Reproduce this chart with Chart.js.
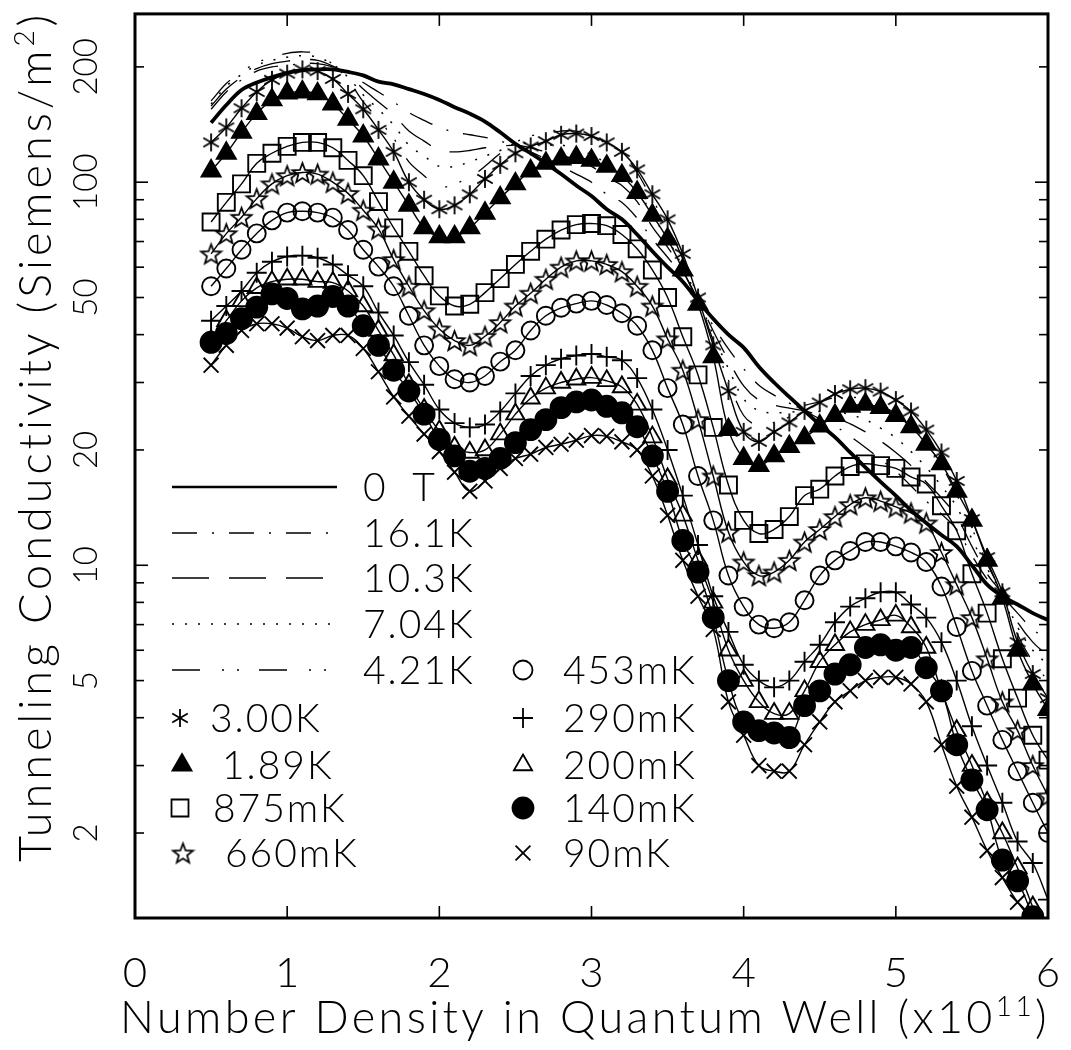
<!DOCTYPE html>
<html>
<head>
<meta charset="utf-8">
<title>Tunneling conductivity vs density</title>
<script src="https://cdn.jsdelivr.net/npm/chart.js@4.4.1/dist/chart.umd.min.js"></script>
<style>
  html, body { margin: 0; padding: 0; background: #fff; }
  canvas { display: block; }
</style>
</head>
<body>
<canvas id="chart" width="1071" height="1050"></canvas>
<script>
// density in the well (units of 1e11), shared by every curve
const density = [0.5, 0.6, 0.7, 0.8, 0.9, 1.0, 1.1, 1.2, 1.3, 1.4, 1.5, 1.6, 1.7, 1.8, 1.9,
  2.0, 2.1, 2.2, 2.3, 2.4, 2.5, 2.6, 2.7, 2.8, 2.9, 3.0, 3.1, 3.2, 3.3, 3.4, 3.5, 3.6, 3.7,
  3.8, 3.9, 4.0, 4.1, 4.2, 4.3, 4.4, 4.5, 4.6, 4.7, 4.8, 4.9, 5.0, 5.1, 5.2, 5.3, 5.4, 5.5,
  5.6, 5.7, 5.8, 5.9, 6.0];

// conductivity, Siemens/m^2
const zeroField = [143, 159, 174, 182, 188, 193, 196, 197, 197, 194, 190, 183, 180, 175, 170,
  164, 157, 151, 144, 135, 126, 119, 112, 105, 98, 92, 85, 80, 73, 66, 60, 55, 49,
  44, 40, 37, 33, 30, 27.5, 25.3, 23.3, 21.6, 19.7, 18.0, 16.5, 15.2, 13.9, 12.9, 12.0, 11.2, 10.0,
  8.9, 8.3, 7.9, 7.5, 7.2];

const k16_1 = [155, 172, 185, 195, 200, 202, 204, 204, 200, 194, 182, 172, 162, 152, 145,
  139, 135, 133, 131, 128, 124, 120, 115, 110, 105, 100, 93, 88.5, 80.5, 71, 63.7, 56.5, 49.2,
  42.2, 36.7, 32.6, 29.5, 27.8, 26.5, 25.3, 24.1, 23.1, 21.7, 20.3, 18.9, 17.6, 16.1, 14.7, 13.6, 12.4, 10.6,
  9.2, 8.3, 7.5, 6.8, 6.4];

const k10_3 = [158, 175, 188, 198, 204, 207, 209, 208, 201, 191, 175, 162, 150, 136, 128,
  121, 120, 121, 123, 124, 125, 123, 120, 118, 114, 110, 103, 98, 89, 76.4, 67.7, 58.6, 49.4,
  40.9, 34.3, 29.4, 27.0, 26.2, 25.7, 25.3, 24.7, 24.3, 23.4, 22.3, 21.1, 19.7, 18.2, 16.5, 15.0, 13.4, 11.2,
  9.5, 8.4, 7.1, 6.3, 5.8];

const k7_04 = [160, 178, 191, 202, 208, 212, 214, 212, 203, 188, 169, 155, 141, 125, 117,
  110, 110, 113, 117, 121, 126, 126, 125, 125, 122, 118, 112, 106, 96, 82, 71, 60, 49.6,
  39.9, 32.6, 27.2, 25.3, 25.0, 25.1, 25.3, 25.2, 25.3, 24.7, 24.0, 22.8, 21.5, 19.8, 18.0, 16.1, 14.2, 11.7,
  9.8, 8.4, 6.9, 6.0, 5.5];

const k4_21 = [163, 181, 194, 205, 212, 217, 219, 216, 203, 185, 162, 146, 130, 113, 104,
  97, 99, 103, 110, 119, 127, 132, 134, 136, 136, 132, 126, 120, 106, 90, 77, 63, 50,
  38.6, 30.4, 24.6, 23.1, 23.6, 24.4, 26.1, 26.7, 27.4, 27.5, 27.1, 26.2, 24.8, 23.0, 20.7, 18.2, 15.3, 12.5,
  10.1, 8.4, 6.6, 5.6, 5.0];

const k3_00 = [127, 139, 156, 172, 185, 192, 197, 195, 186, 170, 155, 137, 120, 100, 90,
  85, 87, 93, 102, 111, 119, 124, 128, 133, 134, 132, 127, 120, 108, 93, 80, 65, 50,
  37.5, 28.5, 22.3, 21.0, 22.3, 23.6, 25.3, 26.6, 28.0, 28.8, 29.0, 28.4, 27.0, 25.2, 22.6, 19.7, 16.6, 13.2,
  10.5, 8.5, 6.3, 5.2, 4.5];

const k1_89 = [107, 119, 135, 151, 164, 171, 172, 170, 160, 146, 132, 115, 100, 87, 76,
  72, 72, 76, 83, 91, 99, 107, 112, 115, 116, 114, 110, 104, 94, 82, 71, 59, 48,
  35, 22.6, 19.0, 18.2, 19.3, 20.4, 21.5, 23.1, 24.6, 26.0, 26.3, 25.8, 24.6, 23.0, 20.7, 18.4, 15.6, 13.1,
  10.3, 8.2, 6.0, 4.9, 4.2];

const mk875 = [78.7, 88.6, 99, 112, 119, 124, 127, 127, 123, 114, 104, 89, 76, 66, 57,
  50.5, 47.5, 48, 51.5, 56, 61, 66, 71, 75, 77.5, 78, 77, 73, 67, 59, 50, 39.5, 31.4,
  22.9, 16.2, 13.1, 12.1, 12.4, 13.4, 15.2, 15.8, 17.1, 18.1, 18.4, 18.2, 17.9, 17.0, 16.3, 14.3, 12.3, 9.5,
  7.5, 5.7, 4.5, 3.6, 3.1];

const mk660 = [65, 73.4, 81, 90.6, 99, 104, 106, 105, 100, 93.5, 84.5, 75.5, 62.8, 53.5, 46.2,
  41.4, 38.6, 37.5, 39.6, 43.0, 47.5, 51.3, 55.8, 60, 62.3, 62.3, 61, 58.4, 53.5, 47.5, 39, 32.3, 24,
  17.1, 12.2, 10.2, 9.4, 9.6, 10.3, 11.5, 12.4, 13.4, 14.4, 15.0, 14.7, 14.2, 13.7, 12.9, 10.8, 8.9, 7.3,
  5.7, 4.4, 3.7, 3.0, 2.5];

const mk453 = [53.5, 59.5, 66.6, 73.5, 79.5, 83.3, 84, 83.3, 80.8, 75, 66.6, 60.2, 53.5, 44.8, 37.5,
  33.1, 30.6, 30, 31.2, 34, 36.4, 41, 44.8, 47, 48.2, 49, 47.8, 45.5, 42.2, 36.4, 29, 23.3, 17.1,
  13.1, 9.4, 7.8, 7.0, 6.85, 7.1, 8.1, 9.4, 10.3, 10.9, 11.5, 11.5, 11.2, 10.8, 10.2, 8.8, 6.9, 5.3,
  4.3, 3.5, 2.9, 2.4, 2.0];

const mk290 = [43.5, 47.5, 52, 58, 62, 64, 64.3, 63.5, 61, 57.2, 53.5, 45.7, 39.8, 33.9, 29.6,
  25.5, 23.5, 22.9, 23.3, 25.2, 28.1, 31.2, 33.3, 34.6, 35.3, 35.6, 35, 34.3, 30.8, 25.5, 20, 15.2, 11.3,
  8.3, 6.7, 5.5, 5.0, 4.8, 5.0, 5.6, 6.2, 7.1, 7.8, 8.2, 8.5, 8.5, 7.9, 7.3, 6.3, 5.0, 3.8,
  3.0, 2.4, 1.9, 1.67, 1.34];

const mk200 = [38.6, 43.5, 49, 53, 55, 55.8, 55.8, 55, 54.7, 52, 47.5, 41, 35.4, 29.6, 25.5,
  22.4, 20.3, 19.7, 20, 22, 24.8, 27.3, 29, 30, 30.6, 30.9, 30.3, 29.2, 26.3, 21.6, 16.8, 13.5, 10.3,
  8.0, 6.0, 5.0, 4.4, 4.1, 4.1, 4.7, 5.6, 6.2, 6.7, 7.0, 7.2, 7.4, 6.9, 6.1, 4.7, 3.7, 3.0,
  2.4, 2.0, 1.62, 1.28, null];

const mk140 = [38.2, 40.3, 44.0, 47.2, 51.1, 49.7, 46.7, 47.5, 50.3, 47.5, 42.2, 37.5, 32.3, 28.5, 24.8,
  21.3, 19.3, 17.6, 17.9, 19.0, 20.9, 22.6, 24, 25.8, 26.7, 27, 26, 25, 23, 19.3, 15.6, 11.6, 9.6,
  7.3, 5.0, 3.9, 3.7, 3.65, 3.55, 4.3, 4.7, 5.2, 5.5, 6.1, 6.2, 6.0, 6.1, 5.4, 4.7, 3.4, 2.75,
  2.3, 1.7, 1.5, 1.21, null];

const mk90 = [33.3, 37.5, 41, 42.7, 42.7, 41.6, 39.5, 38.6, 39.8, 39.8, 36.8, 32, 27.5, 24.5, 22.0,
  19.8, 17.5, 15.6, 16.6, 17.9, 19, 19.5, 20.3, 20.7, 21.2, 21.8, 21.7, 21.0, 20, 17.1, 13.5, 10.3, 8.3,
  6.8, 4.4, 3.6, 3.0, 2.9, 2.9, 3.4, 3.9, 4.4, 4.7, 5.0, 5.1, 5.1, 4.9, 4.4, 3.4, 2.65, 2.2,
  1.8, 1.53, 1.32, 1.18, null];

const xTicks = [0, 1, 2, 3, 4, 5, 6];
const yTicks = [2, 3, 4, 5, 6, 7, 8, 9, 10, 20, 30, 40, 50, 60, 70, 80, 90, 100, 200];
const yTickLabels = [2, 5, 10, 20, 50, 100, 200];

const FONT = 'Lato, "DejaVu Sans", sans-serif';

function pts(values) {
  return values.map((v, i) => ({ x: density[i], y: v }));
}

// six-armed asterisk marker
function makeAsterisk(r) {
  const c = document.createElement('canvas');
  const s = Math.ceil(r * 2 + 4);
  c.width = c.height = s;
  const g = c.getContext('2d');
  g.strokeStyle = '#000';
  g.lineWidth = 1.8;
  g.translate(s / 2, s / 2);
  for (let k = 0; k < 3; k++) {
    const a = Math.PI / 2 + k * Math.PI / 3;
    g.beginPath();
    g.moveTo(Math.cos(a) * r, Math.sin(a) * r);
    g.lineTo(-Math.cos(a) * r, -Math.sin(a) * r);
    g.stroke();
  }
  return c;
}

// open five-pointed star marker
function makeStar(r) {
  const c = document.createElement('canvas');
  const s = Math.ceil(r * 2 + 4);
  c.width = c.height = s;
  const g = c.getContext('2d');
  g.strokeStyle = '#000';
  g.lineWidth = 1.8;
  g.lineJoin = 'miter';
  g.translate(s / 2, s / 2 + r * 0.1);
  g.beginPath();
  for (let k = 0; k < 10; k++) {
    const rr = k % 2 ? r * 0.42 : r;
    const a = -Math.PI / 2 + k * Math.PI / 5;
    g.lineTo(Math.cos(a) * rr, Math.sin(a) * rr);
  }
  g.closePath();
  g.stroke();
  return c;
}

const asterisk = makeAsterisk(9);
const openStar = makeStar(10.5);
const CLEAR = 'rgba(0,0,0,0)';

function curve(label, values, width, dash) {
  return {
    label, data: pts(values), borderColor: '#000', borderWidth: width,
    borderDash: dash, pointRadius: 0, tension: 0.35, clip: 0
  };
}

function marked(label, values, style, radius, fillColor) {
  return {
    label, data: pts(values), borderColor: '#000', borderWidth: 1.4, tension: 0.4,
    pointStyle: style, pointRadius: radius, pointBorderWidth: 1.9,
    pointBorderColor: '#000', pointBackgroundColor: fillColor, clip: 0
  };
}

const DASH_16 = [25, 15, 2, 15];
const DASH_10 = [37, 20];
const DASH_7 = [2, 11];
const DASH_4 = [28, 22, 2, 13, 2, 20];

const datasets = [
  marked('90mK', mk90, 'crossRot', 10.5, CLEAR),
  marked('140mK', mk140, 'circle', 10.5, '#000'),
  marked('200mK', mk200, 'triangle', 10.5, CLEAR),
  marked('290mK', mk290, 'cross', 10, CLEAR),
  marked('453mK', mk453, 'circle', 9, CLEAR),
  marked('660mK', mk660, openStar, 10, CLEAR),
  marked('875mK', mk875, 'rect', 12, CLEAR),
  marked('1.89K', k1_89, 'triangle', 11, '#000'),
  marked('3.00K', k3_00, asterisk, 9, CLEAR),
  curve('4.21K', k4_21, 1.3, DASH_4),
  curve('7.04K', k7_04, 1.5, DASH_7),
  curve('10.3K', k10_3, 1.3, DASH_10),
  curve('16.1K', k16_1, 1.3, DASH_16),
  curve('0 T', zeroField, 3.8, [])
];

// legend rows: line samples, then two columns of markers
const lineKeys = [
  { text: '0 T', y: 487, width: 2.6, dash: [] },
  { text: '16.1K', y: 533, width: 1.5, dash: DASH_16 },
  { text: '10.3K', y: 578, width: 1.5, dash: DASH_10 },
  { text: '7.04K', y: 624, width: 1.7, dash: DASH_7 },
  { text: '4.21K', y: 670, width: 1.5, dash: DASH_4 }
];
const markerKeys = [
  { text: '3.00K', x: 180, tx: 210, y: 718, style: asterisk, r: 9, fill: CLEAR },
  { text: '1.89K', x: 182, tx: 222, y: 765, style: 'triangle', r: 11, fill: '#000' },
  { text: '875mK', x: 180, tx: 213, y: 808, style: 'rect', r: 12, fill: CLEAR },
  { text: '660mK', x: 183, tx: 225, y: 853, style: openStar, r: 10, fill: CLEAR },
  { text: '453mK', x: 523, tx: 563, y: 670, style: 'circle', r: 9.5, fill: CLEAR },
  { text: '290mK', x: 523, tx: 563, y: 718, style: 'cross', r: 10, fill: CLEAR },
  { text: '200mK', x: 523, tx: 563, y: 765, style: 'triangle', r: 10.5, fill: CLEAR },
  { text: '140mK', x: 523, tx: 563, y: 808, style: 'circle', r: 10.5, fill: '#000' },
  { text: '90mK', x: 523, tx: 563, y: 853, style: 'crossRot', r: 10.5, fill: CLEAR }
];

function setFont(ctx, size, spacing) {
  ctx.font = `300 ${size}px ${FONT}`;
  ctx.letterSpacing = spacing + 'px';
}

function widthOf(ctx, text, size, spacing) {
  setFont(ctx, size, spacing);
  return ctx.measureText(text).width;
}

// stretches a title (with superscript parts) over `length` pixels along the baseline
function drawTitle(ctx, parts, length) {
  let natural = 0, chars = 0;
  parts.forEach(p => { natural += widthOf(ctx, p.t, p.size, 0); chars += p.t.length; });
  const sp = (length - natural) / chars;
  let x = 0;
  ctx.textAlign = 'left';
  parts.forEach(p => {
    const w = widthOf(ctx, p.t, p.size, sp);
    ctx.fillText(p.t, x, -p.rise);
    x += w;
  });
}

function tick(ctx, x0, y0, x1, y1) {
  ctx.beginPath();
  ctx.moveTo(x0, y0);
  ctx.lineTo(x1, y1);
  ctx.stroke();
}

const decorations = {
  id: 'decorations',
  afterDraw(chart) {
    const { ctx, chartArea: a, scales: { x, y } } = chart;
    ctx.save();
    ctx.fillStyle = '#000';
    ctx.strokeStyle = '#000';

    // ticks, inward on all four sides
    ctx.lineWidth = 1.6;
    xTicks.forEach(v => {
      const px = x.getPixelForValue(v);
      tick(ctx, px, a.bottom, px, a.bottom - 12);
      tick(ctx, px, a.top, px, a.top + 12);
    });
    yTicks.forEach(v => {
      const py = y.getPixelForValue(v);
      const len = (v === 10 || v === 100) ? 13 : 9;
      tick(ctx, a.left, py, a.left + len, py);
      tick(ctx, a.right, py, a.right - len, py);
    });

    ctx.lineWidth = 3;
    ctx.strokeRect(a.left, a.top, a.right - a.left, a.bottom - a.top);

    // x tick labels
    setFont(ctx, 42, 0);
    ctx.textAlign = 'center';
    ctx.textBaseline = 'alphabetic';
    xTicks.forEach(v => ctx.fillText(String(v), x.getPixelForValue(v), 987));

    // y tick labels, rotated
    setFont(ctx, 33, 0);
    yTickLabels.forEach(v => {
      ctx.save();
      ctx.translate(97, y.getPixelForValue(v));
      ctx.rotate(-Math.PI / 2);
      ctx.textAlign = 'center';
      ctx.fillText(String(v), 0, 0);
      ctx.restore();
    });

    // axis titles
    ctx.save();
    ctx.translate(120, 1033);
    drawTitle(ctx, [
      { t: 'Number Density in Quantum Well (x10', size: 45, rise: 0 },
      { t: '11', size: 28, rise: 17 },
      { t: ')', size: 45, rise: 0 }
    ], 930);
    ctx.restore();

    ctx.save();
    ctx.translate(51, 862);
    ctx.rotate(-Math.PI / 2);
    drawTitle(ctx, [
      { t: 'Tunneling Conductivity (Siemens/m', size: 45, rise: 0 },
      { t: '2', size: 28, rise: 17 },
      { t: ')', size: 45, rise: 0 }
    ], 852);
    ctx.restore();

    // legend
    ctx.textAlign = 'left';
    lineKeys.forEach(k => {
      ctx.save();
      ctx.lineWidth = k.width;
      ctx.setLineDash(k.dash);
      tick(ctx, 172, k.y, 337, k.y);
      ctx.restore();
      setFont(ctx, 39, k.text === '0 T' ? 8 : 2);
      ctx.fillText(k.text, 363, k.y + 14);
    });
    markerKeys.forEach(k => {
      ctx.save();
      ctx.lineWidth = 1.8;
      ctx.fillStyle = k.fill;
      Chart.helpers.drawPoint(ctx, { pointStyle: k.style, radius: k.r, borderWidth: 1.8, rotation: 0 }, k.x, k.y);
      ctx.restore();
      setFont(ctx, 39, 2);
      ctx.fillText(k.text, k.tx, k.y + 14);
    });

    ctx.letterSpacing = '0px';
    ctx.restore();
  }
};

new Chart(document.getElementById('chart'), {
  type: 'line',
  data: { datasets },
  options: {
    responsive: false,
    animation: false,
    devicePixelRatio: 1,
    layout: { padding: { left: 135, top: 12, right: 23, bottom: 132 } },
    plugins: { legend: { display: false }, tooltip: { enabled: false } },
    scales: {
      x: { type: 'linear', min: 0, max: 6, display: false },
      y: { type: 'logarithmic', min: 1.2, max: 275, display: false }
    }
  },
  plugins: [decorations]
});
</script>
</body>
</html>
